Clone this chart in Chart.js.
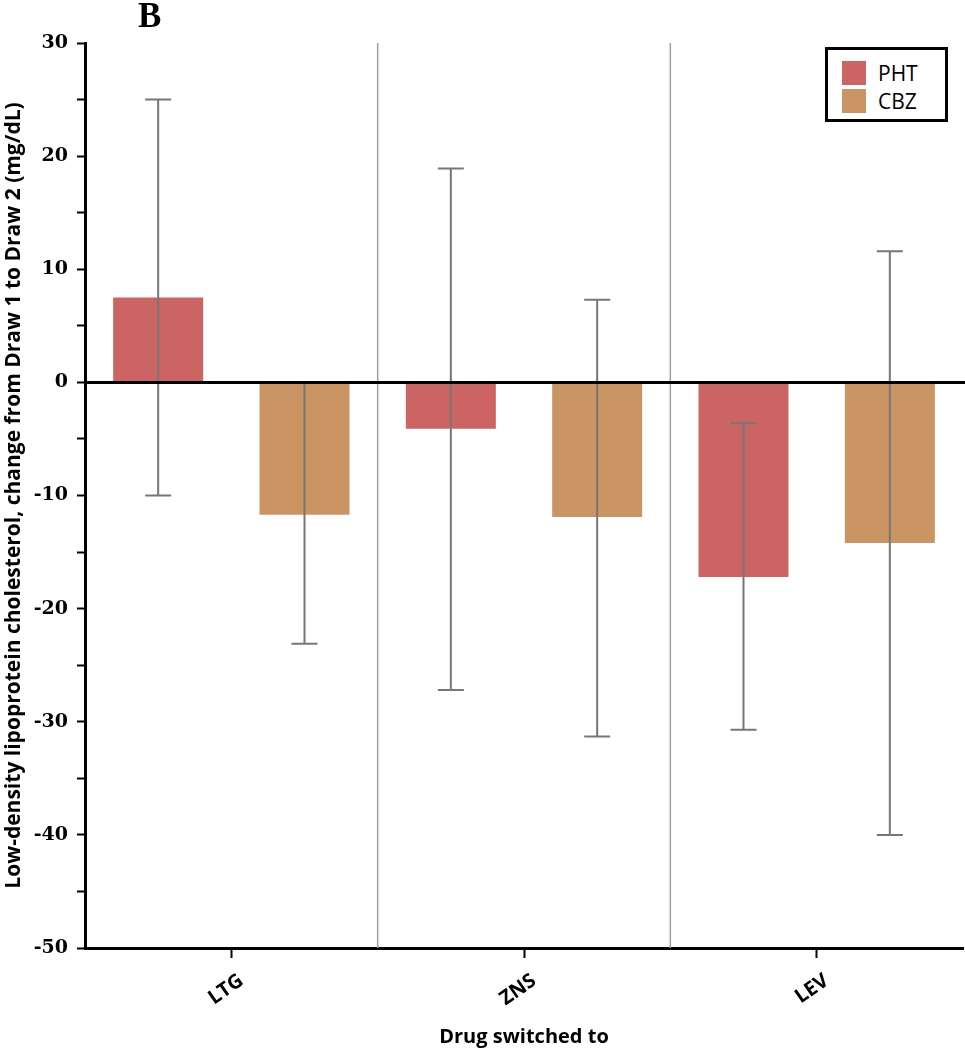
<!DOCTYPE html>
<html>
<head>
<meta charset="utf-8">
<script src="https://cdn.jsdelivr.net/npm/chart.js@4.4.1/dist/chart.umd.min.js"></script>
<style>
  body { margin: 0; background: #fff; }
  #wrap { position: relative; width: 965px; height: 1050px; }
  #panel {
    position: absolute; left: 138px; top: -4px;
    font: bold 35px "Liberation Serif", serif; color: #000;
  }
  #legend {
    position: absolute; left: 825px; top: 47px; width: 123px; height: 75px;
    box-sizing: border-box; border: 3px solid #000; background: #fff;
    padding: 9px 0 0 14px;
  }
  .item { display: flex; align-items: center; height: 28px; }
  .swatch { width: 24px; height: 24px; margin-right: 12px; }
  .item span { font: 21px "Open Sans", sans-serif; color: #000; }
</style>
</head>
<body>
<div id="wrap">
  <canvas id="ldlChart" width="965" height="1050"></canvas>
  <div id="panel">B</div>
  <div id="legend"></div>
</div>
<script>
// categories and series values (mg/dL change)
const drugs = ["LTG", "ZNS", "LEV"];
const seriesNames = ["PHT", "CBZ"];
const phtMean = [7.5, -4.1, -17.2];
const cbzMean = [-11.7, -11.9, -14.2];
// error bar ends
const phtLow = [-10.0, -27.2, -30.7];
const phtHigh = [25.0, 18.9, -3.6];
const cbzLow = [-23.1, -31.3, -40.0];
const cbzHigh = [0, 7.3, 11.6];
// y axis
const yMin = -50;
const yMax = 30;
const yStep = 5;

const phtColor = "#cc6464";
const cbzColor = "#ca9463";

// vertical separators between drug groups
const dividerPlugin = {
    id: "dividers",
    beforeDatasetsDraw(chart) {
        const ctx = chart.ctx;
        const x = chart.scales.x;
        const area = chart.chartArea;
        ctx.save();
        ctx.strokeStyle = "#a0a0a0";
        ctx.lineWidth = 1.5;
        for (let i = 0; i < drugs.length - 1; i++) {
            const px = (x.getPixelForValue(i) + x.getPixelForValue(i + 1)) / 2;
            ctx.beginPath();
            ctx.moveTo(px, area.top);
            ctx.lineTo(px, area.bottom);
            ctx.stroke();
        }
        ctx.restore();
    },
};

// error bars on top of the bars, then the zero line
const errorBarPlugin = {
    id: "errorBars",
    afterDatasetsDraw(chart) {
        const ctx = chart.ctx;
        const y = chart.scales.y;
        const lows = [phtLow, cbzLow];
        const highs = [phtHigh, cbzHigh];
        ctx.save();
        ctx.strokeStyle = "#777";
        ctx.lineWidth = 2;
        chart.data.datasets.forEach((ds, d) => {
            const meta = chart.getDatasetMeta(d);
            meta.data.forEach((bar, i) => {
                const cx = bar.x;
                const top = y.getPixelForValue(highs[d][i]);
                const bot = y.getPixelForValue(lows[d][i]);
                ctx.beginPath();
                ctx.moveTo(cx, top);
                ctx.lineTo(cx, bot);
                ctx.moveTo(cx - 13, top);
                ctx.lineTo(cx + 13, top);
                ctx.moveTo(cx - 13, bot);
                ctx.lineTo(cx + 13, bot);
                ctx.stroke();
            });
        });
        const area = chart.chartArea;
        const zy = y.getPixelForValue(0);
        ctx.strokeStyle = "#000";
        ctx.lineWidth = 3;
        ctx.beginPath();
        ctx.moveTo(area.left, zy);
        ctx.lineTo(chart.width, zy);
        ctx.stroke();
        ctx.restore();
    },
};

const ldlChart = new Chart(document.getElementById("ldlChart").getContext("2d"), {
    type: "bar",
    data: {
        labels: drugs,
        datasets: [
            {
                label: seriesNames[0],
                data: phtMean,
                backgroundColor: phtColor,
                categoryPercentage: 1,
                barPercentage: 0.615,
            },
            {
                label: seriesNames[1],
                data: cbzMean,
                backgroundColor: cbzColor,
                categoryPercentage: 1,
                barPercentage: 0.615,
            },
        ],
    },
    options: {
        responsive: false,
        animation: false,
        layout: { padding: { top: 43, right: 2, left: 0, bottom: 0 } },
        plugins: {
            legend: { display: false },
            tooltip: { enabled: false },
        },
        scales: {
            x: {
                grid: {
                    offset: false,
                    drawOnChartArea: false,
                    tickLength: 10,
                    tickWidth: 2,
                    tickColor: "#000",
                },
                border: { color: "#000", width: 3 },
                ticks: {
                    color: "#000",
                    font: { family: "Open Sans", weight: "bold", size: 20 },
                    minRotation: 35,
                    maxRotation: 35,
                    labelOffset: 10,
                    padding: 11,
                },
                title: {
                    display: true,
                    text: "Drug switched to",
                    color: "#000",
                    font: { family: "Open Sans", weight: "bold", size: 20 },
                    padding: { top: 0, bottom: 1 },
                },
                afterFit(scale) {
                    scale.height = 102;
                },
            },
            y: {
                min: yMin,
                max: yMax,
                grid: {
                    drawOnChartArea: false,
                    tickLength: 8,
                    tickWidth: 2,
                    tickColor: "#000",
                },
                border: { color: "#000", width: 3 },
                ticks: {
                    stepSize: yStep,
                    autoSkip: false,
                    padding: 9,
                    color: "#000",
                    font: { family: "DejaVu Serif", weight: "bold", size: 19 },
                    callback: (v) => (v % 10 === 0 ? v : ""),
                },
                title: {
                    display: true,
                    text: "Low-density lipoprotein cholesterol, change from Draw 1 to Draw 2 (mg/dL)",
                    color: "#000",
                    font: { family: "Open Sans", weight: "bold", size: 21 },
                    padding: { top: 1, bottom: 0 },
                },
                afterFit(scale) {
                    scale.width = 85;
                },
            },
        },
    },
    plugins: [dividerPlugin, errorBarPlugin],
});

// boxed legend in the top right corner
const legendBox = document.getElementById("legend");
ldlChart.data.datasets.forEach((ds) => {
    const item = document.createElement("div");
    item.className = "item";
    const sw = document.createElement("div");
    sw.className = "swatch";
    sw.style.background = ds.backgroundColor;
    const txt = document.createElement("span");
    txt.textContent = ds.label;
    item.appendChild(sw);
    item.appendChild(txt);
    legendBox.appendChild(item);
});
</script>
</body>
</html>
